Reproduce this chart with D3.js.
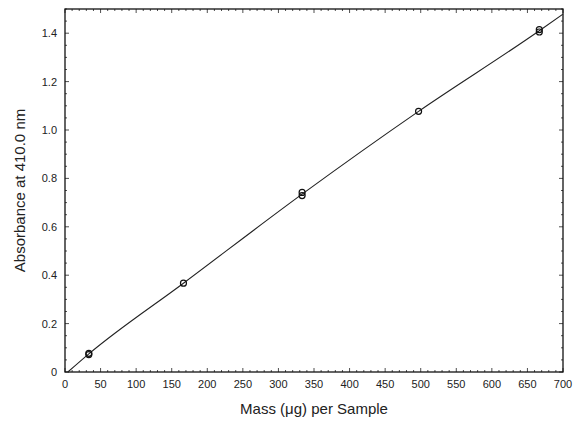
<!DOCTYPE html>
<html>
<head>
<meta charset="utf-8">
<script src="https://cdn.jsdelivr.net/npm/d3@7"></script>
<style>
  body { margin: 0; background: #fff; }
  svg text { font-family: "Liberation Sans", Arial, sans-serif; fill: #222; }
</style>
</head>
<body>
<div id="chart"></div>
<script>
// data
var massX = [33.5, 33.5, 166.5, 333.3, 333.3, 497, 666.7, 666.7];
var absY = [0.072, 0.077, 0.367, 0.729, 0.742, 1.077, 1.405, 1.415];
// the drawn calibration line, read at a few places along it
var fitX = [4, 33.5, 166.5, 333.3, 497, 666.7, 700];
var fitY = [0, 0.075, 0.367, 0.735, 1.077, 1.41, 1.479];
var xTicks = [0, 50, 100, 150, 200, 250, 300, 350, 400, 450, 500, 550, 600, 650, 700];
var yTicks = [0, 0.2, 0.4, 0.6, 0.8, 1.0, 1.2, 1.4];

var width = 573, height = 422;
var plotLeft = 65, plotRight = 563, plotTop = 9, plotBottom = 372;

var svg = d3.select("#chart").append("svg")
    .attr("width", width)
    .attr("height", height);

var x = d3.scaleLinear().domain([0, 700]).range([plotLeft, plotRight]);
var y = d3.scaleLinear().domain([0, 1.5]).range([plotBottom, plotTop]);

// minor ticks, inward on all four sides
var xMinor = d3.range(0, 701, 10);
var yMinor = d3.range(0, 1.501, 0.05);

var ticks = svg.append("g").attr("stroke", "#222").attr("stroke-width", 0.8);
xMinor.forEach(function(v) {
  var len = (v % 50 === 0) ? 4 : 2;
  ticks.append("line").attr("x1", x(v)).attr("x2", x(v)).attr("y1", plotBottom).attr("y2", plotBottom - len);
  ticks.append("line").attr("x1", x(v)).attr("x2", x(v)).attr("y1", plotTop).attr("y2", plotTop + len);
});
yMinor.forEach(function(v) {
  var major = Math.abs(v * 5 - Math.round(v * 5)) < 1e-6;
  var len = major ? 4 : 2;
  ticks.append("line").attr("y1", y(v)).attr("y2", y(v)).attr("x1", plotLeft).attr("x2", plotLeft + len);
  ticks.append("line").attr("y1", y(v)).attr("y2", y(v)).attr("x1", plotRight).attr("x2", plotRight - len);
});

// frame
svg.append("rect")
    .attr("x", plotLeft).attr("y", plotTop)
    .attr("width", plotRight - plotLeft).attr("height", plotBottom - plotTop)
    .attr("fill", "none").attr("stroke", "#111").attr("stroke-width", 1.3);

// tick labels
svg.append("g").selectAll("text").data(xTicks).enter().append("text")
    .attr("x", function(d) { return x(d); })
    .attr("y", plotBottom + 16)
    .attr("text-anchor", "middle")
    .attr("font-size", 11)
    .text(function(d) { return d; });

svg.append("g").selectAll("text").data(yTicks).enter().append("text")
    .attr("x", plotLeft - 8)
    .attr("y", function(d) { return y(d) + 4; })
    .attr("text-anchor", "end")
    .attr("font-size", 11)
    .text(function(d) { return d === 0 ? "0" : d.toFixed(1); });

// axis titles
svg.append("text")
    .attr("x", (plotLeft + plotRight) / 2)
    .attr("y", 414)
    .attr("text-anchor", "middle")
    .attr("font-size", 15)
    .text("Mass (\u03bcg) per Sample");

svg.append("text")
    .attr("transform", "translate(25," + ((plotTop + plotBottom) / 2) + ")rotate(-90)")
    .attr("text-anchor", "middle")
    .attr("font-size", 15)
    .text("Absorbance at 410.0 nm");

// calibration line
var fit = fitX.map(function(v, i) { return [v, fitY[i]]; });
svg.append("path")
    .datum(fit)
    .attr("d", d3.line().curve(d3.curveMonotoneX)
        .x(function(d) { return x(d[0]); })
        .y(function(d) { return y(d[1]); }))
    .attr("fill", "none")
    .attr("stroke", "#222")
    .attr("stroke-width", 1.1);

// points
var pts = massX.map(function(v, i) { return [v, absY[i]]; });
svg.append("g").selectAll("circle").data(pts).enter().append("circle")
    .attr("cx", function(d) { return x(d[0]); })
    .attr("cy", function(d) { return y(d[1]); })
    .attr("r", 3)
    .attr("fill", "none")
    .attr("stroke", "#111")
    .attr("stroke-width", 1.2);
</script>
</body>
</html>
